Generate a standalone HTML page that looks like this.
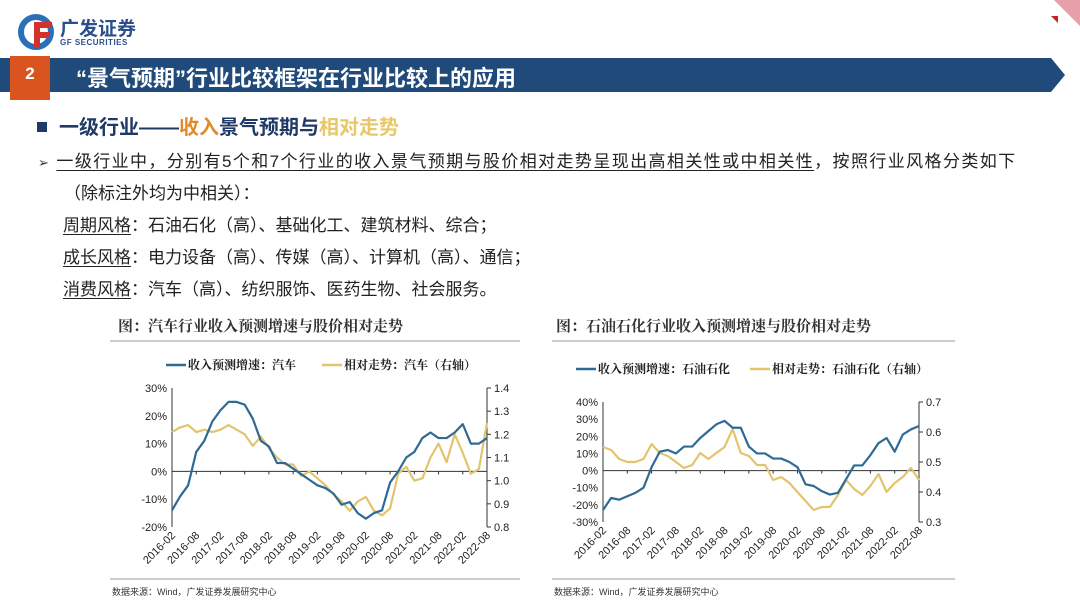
<!DOCTYPE html>
<html><head><meta charset="utf-8">
<style>
html,body{margin:0;padding:0;background:#fff;}
body{width:1080px;height:608px;position:relative;overflow:hidden;font-family:"Liberation Sans","Noto Sans CJK SC",sans-serif;}
.abs{position:absolute;white-space:nowrap;}
.u{text-decoration:underline;text-underline-offset:3px;}
.body{font-size:17px;color:#222;}
.ctitle{font-family:"Liberation Serif","Noto Serif CJK SC",serif;font-size:15px;font-weight:bold;color:#333;}
</style></head><body>
<!-- logo -->
<div class="abs" style="left:18px;top:14px;width:130px;height:36px;">
  <svg width="40" height="36"><circle cx="18" cy="18" r="15" fill="none" stroke="#2a6fb8" stroke-width="6"/><path d="M16 8 H34 V14 H22 V18 H32 V24 H22 V33 H16Z" fill="#d4312c"/></svg>
  <div class="abs" style="left:42px;top:0;font-size:19px;font-weight:bold;color:#2a4f8a;">广发证券</div>
  <div class="abs" style="left:42px;top:24px;font-size:8px;font-weight:bold;color:#2a4f8a;letter-spacing:0.5px;">GF SECURITIES</div>
</div>
<svg class="abs" style="left:1040px;top:0" width="40" height="30">
  <path d="M14 0 L40 0 L40 26Z" fill="#e8a0a8"/><path d="M11 16 L18 16 L18 23Z" fill="#c0242b"/>
</svg>
<!-- title bar -->
<svg class="abs" style="left:0;top:56px" width="1080" height="44">
  <path d="M0 2 H1051 L1065 19 L1051 36 H0Z" fill="#1f4a7a"/>
  <rect x="10" y="0" width="40" height="44" fill="#d9541e"/>
</svg>
<div class="abs" style="left:10px;top:64px;width:40px;text-align:center;color:#fff;font-size:17px;font-weight:bold;">2</div>
<div class="abs" style="left:76px;top:61px;color:#fff;font-size:22px;font-weight:bold;">“景气预期”行业比较框架在行业比较上的应用</div>
<!-- heading -->
<div class="abs" style="left:37px;top:111px;font-size:20px;font-weight:bold;color:#1f3a66;">
  <span style="display:inline-block;width:10px;height:10px;background:#1f3a66;margin-right:12px;vertical-align:2px;"></span>一级行业——<span style="color:#e08a2e">收入</span>景气预期与<span style="color:#e8c86a">相对走势</span></div>
<div class="abs body" style="left:38px;top:147px;letter-spacing:1.4px;"><span style="font-size:13px;color:#333;">➢</span>&nbsp;<span class="u">一级行业中，分别有5个和7个行业的收入景气预期与股价相对走势呈现出高相关性或中相关性</span>，按照行业风格分类如下</div>
<div class="abs body" style="left:64px;top:179px;">（除标注外均为中相关）：</div>
<div class="abs body" style="left:63px;top:211px;"><span class="u">周期风格</span>：石油石化（高）、基础化工、建筑材料、综合；</div>
<div class="abs body" style="left:63px;top:243px;"><span class="u">成长风格</span>：电力设备（高）、传媒（高）、计算机（高）、通信；</div>
<div class="abs body" style="left:63px;top:275px;"><span class="u">消费风格</span>：汽车（高）、纺织服饰、医药生物、社会服务。</div>
<div class="abs ctitle" style="left:118px;top:315px;">图：汽车行业收入预测增速与股价相对走势</div>
<div class="abs ctitle" style="left:556px;top:315px;">图：石油石化行业收入预测增速与股价相对走势</div>

<svg id="c" class="abs" style="left:0;top:0" width="1080" height="608"></svg>

<script>
const dates = ["2016-02","2016-08","2017-02","2017-08","2018-02","2018-08","2019-02","2019-08","2020-02","2020-08","2021-02","2021-08","2022-02","2022-08"];
const autoRevenue = [-14,-9,-5,7,11,18,22,25,25,24,19,11,9,3,3,1,-1,-3,-5,-6,-8,-12,-11,-15,-17,-15,-14,-4,0,5,7,12,14,12,12,14,17,10,10,12];
const autoRelative = [1.21,1.23,1.24,1.21,1.22,1.21,1.22,1.24,1.22,1.20,1.15,1.19,1.14,1.10,1.07,1.07,1.02,1.04,1.01,0.98,0.94,0.91,0.87,0.91,0.93,0.87,0.85,0.88,1.03,1.06,1.00,1.01,1.10,1.16,1.08,1.20,1.12,1.03,1.05,1.25];
const oilRevenue = [-23,-16,-17,-15,-13,-10,2,11,12,10,14,14,19,23,27,29,25,25,14,10,10,7,7,5,2,-8,-9,-12,-14,-13,-5,3,3,9,16,19,11,21,24,26];
const oilRelative = [0.55,0.54,0.51,0.50,0.50,0.51,0.56,0.53,0.52,0.50,0.48,0.49,0.53,0.51,0.53,0.55,0.61,0.53,0.52,0.49,0.49,0.44,0.45,0.43,0.40,0.37,0.34,0.35,0.35,0.39,0.44,0.41,0.39,0.42,0.46,0.40,0.43,0.45,0.48,0.44];
const leftTicksL = [-20,-10,0,10,20,30];
const leftTicksR = [0.8,0.9,1.0,1.1,1.2,1.3,1.4];
const rightTicksL = [-30,-20,-10,0,10,20,30,40];
const rightTicksR = [0.3,0.4,0.5,0.6,0.7];

const svg = document.getElementById('c');
const NS = 'http://www.w3.org/2000/svg';
function mk(tag, attrs, parent){const e=document.createElementNS(NS,tag);for(const k in attrs)e.setAttribute(k,attrs[k]);(parent||svg).appendChild(e);return e;}

function chart(cfg){
  const g = mk('g',{});
  
  
  const {x0,x1,yTop,yBot,lMin,lMax,rMin,rMax} = cfg;
  const n = cfg.blue.length;
  const X = i => x0 + (x1-x0)*i/(n-1);
  const YL = v => yBot - (v-lMin)/(lMax-lMin)*(yBot-yTop);
  const YR = v => yBot - (v-rMin)/(rMax-rMin)*(yBot-yTop);
  mk('line',{x1:cfg.fx0,x2:cfg.fx1,y1:341,y2:341,stroke:'#999','stroke-width':1},g);
  mk('line',{x1:cfg.fx0,x2:cfg.fx1,y1:579,y2:579,stroke:'#999','stroke-width':1},g);
  const src = mk('text',{x:cfg.fx0+2,y:595,'font-size':9,fill:'#333','font-family':'Liberation Sans, Noto Sans CJK SC, sans-serif'},g);
  src.textContent='数据来源：Wind，广发证券发展研究中心';
  
  
  const lg = mk('g',{},g);
  
  
  mk('line',{x1:cfg.legX,x2:cfg.legX+20,y1:cfg.legY,y2:cfg.legY,stroke:'#2d6a96','stroke-width':2.5},lg);
  const t1=mk('text',{x:cfg.legX+22,y:cfg.legY+4,'font-size':12,'font-weight':'bold',fill:'#222','font-family':'Liberation Serif, Noto Serif CJK SC, serif'},lg);
  t1.textContent=cfg.leg1;
  mk('line',{x1:cfg.legX2,x2:cfg.legX2+20,y1:cfg.legY,y2:cfg.legY,stroke:'#e3c46e','stroke-width':2.5},lg);
  const t2=mk('text',{x:cfg.legX2+22,y:cfg.legY+4,'font-size':12,'font-weight':'bold',fill:'#222','font-family':'Liberation Serif, Noto Serif CJK SC, serif'},lg);
  t2.textContent=cfg.leg2;
  mk('line',{x1:x0,x2:x0,y1:yTop,y2:yBot,stroke:'#333','stroke-width':1},g);
  mk('line',{x1:x1,x2:x1,y1:yTop,y2:yBot,stroke:'#333','stroke-width':1},g);
  mk('line',{x1:x0,x2:x1,y1:YL(0),y2:YL(0),stroke:'#333','stroke-width':1},g);
  cfg.lt.forEach(v=>{
    const t=mk('text',{x:x0-5,y:YL(v)+4,'font-size':11,'text-anchor':'end',fill:'#222'},g);
    t.textContent=v+'%';
    
    
  });
  cfg.rt.forEach(v=>{
    mk('line',{x1:x1,x2:x1+4,y1:YR(v),y2:YR(v),stroke:'#333'},g);
    const t=mk('text',{x:x1+7,y:YR(v)+4,'font-size':11,fill:'#222'},g);
    t.textContent=v.toFixed(1);
    
    
  });
  dates.forEach((d,i)=>{
    const xx = x0 + (x1-x0)*i/(dates.length-1);
    mk('line',{x1:xx,x2:xx,y1:YL(0),y2:YL(0)+3,stroke:'#333'},g);
    const t=mk('text',{x:xx+4,y:yBot+9,'font-size':11,'text-anchor':'end',fill:'#222',transform:`rotate(-45 ${xx+4} ${yBot+9})`},g);
    t.textContent=d;
    
    
  });
  const p2 = mk('polyline',{points:cfg.yellow.map((v,i)=>X(i)+','+YR(v)).join(' '),fill:'none',stroke:'#e3c46e','stroke-width':2.2,'stroke-linejoin':'round'},g);
  
  
  const p1 = mk('polyline',{points:cfg.blue.map((v,i)=>X(i)+','+YL(v)).join(' '),fill:'none',stroke:'#2d6a96','stroke-width':2.2,'stroke-linejoin':'round'},g);
  
  
}
chart({name:'auto-chart',x0:172,x1:487,yTop:388,yBot:527,lMin:-20,lMax:30,rMin:0.8,rMax:1.4,blue:autoRevenue,yellow:autoRelative,lt:leftTicksL,rt:leftTicksR,fx0:110,fx1:520,legX:166,legX2:322,legY:365,leg1:'收入预测增速：汽车',leg2:'相对走势：汽车（右轴）'});
chart({name:'oil-chart',x0:603,x1:919,yTop:402,yBot:522,lMin:-30,lMax:40,rMin:0.3,rMax:0.7,blue:oilRevenue,yellow:oilRelative,lt:rightTicksL,rt:rightTicksR,fx0:552,fx1:955,legX:576,legX2:750,legY:369,leg1:'收入预测增速：石油石化',leg2:'相对走势：石油石化（右轴）'});
</script>
</body></html>
